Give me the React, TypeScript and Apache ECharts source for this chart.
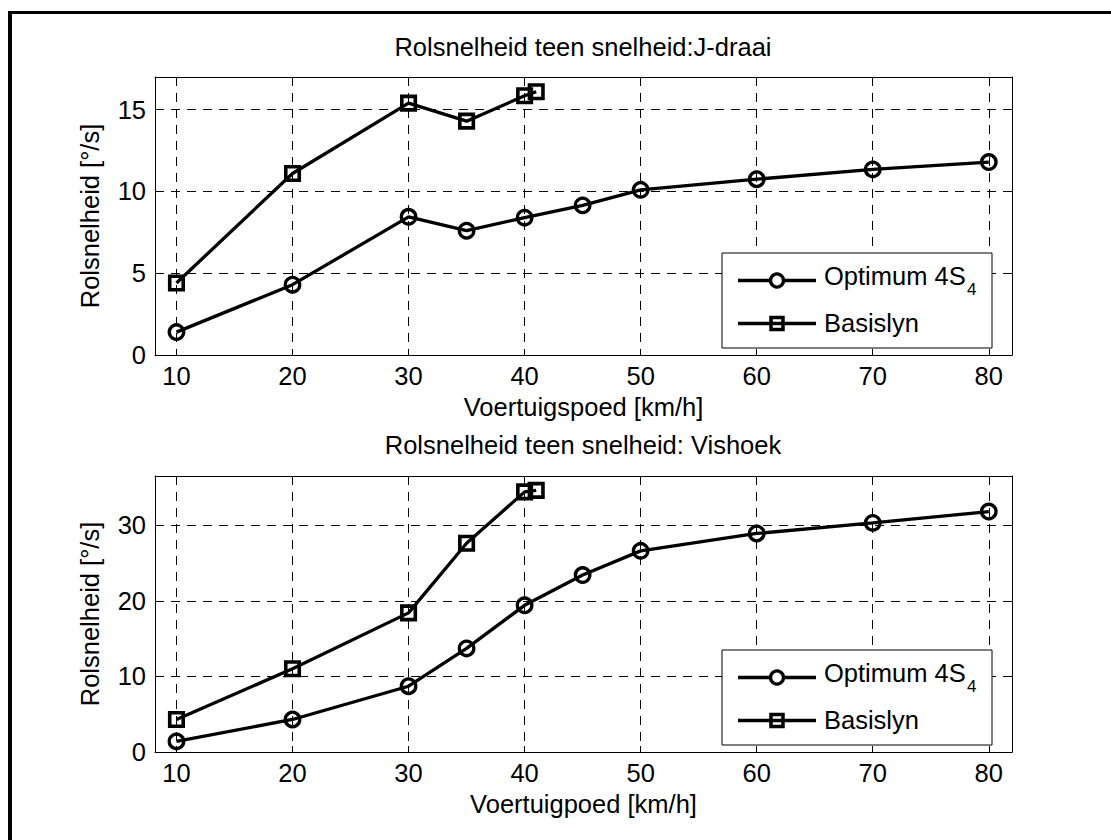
import React, { useEffect, useRef } from "react";
import * as echarts from "echarts";

// Vehicle speed [km/h] at which each configuration was run
const speedOptimum = [10, 20, 30, 35, 40, 45, 50, 60, 70, 80];
const speedBase = [10, 20, 30, 35, 40, 41];

// Roll rate [°/s], J-turn manoeuvre
const jTurnOptimum = [1.4, 4.3, 8.45, 7.6, 8.4, 9.15, 10.1, 10.75, 11.35, 11.8];
const jTurnBase = [4.4, 11.1, 15.4, 14.3, 15.85, 16.1];

// Roll rate [°/s], fishhook manoeuvre
const fishhookOptimum = [1.4, 4.3, 8.7, 13.7, 19.4, 23.4, 26.6, 28.9, 30.3, 31.8];
const fishhookBase = [4.3, 11.0, 18.4, 27.6, 34.4, 34.6];

const titles = ["Rolsnelheid teen snelheid:J-draai", "Rolsnelheid teen snelheid: Vishoek"];
const xNames = ["Voertuigspoed [km/h]", "Voertuigpoed [km/h]"];
const yName = "Rolsnelheid [°/s]";
const seriesNames = ["Optimum 4S", "Basislyn"];
const subscript = "4";
const yMax = [17, 36.5];
const yStep = [5, 10];

const FONT = "'Liberation Sans', Arial, Helvetica, sans-serif";
const FS = 25.5;

const GRIDS = [
  { left: 155, top: 77, width: 857, height: 278 },
  { left: 155, top: 476, width: 857, height: 276 },
];

const pairs = (xs: number[], ys: number[]) => xs.map((x, i) => [x, ys[i]]);

function legendGraphics(top: number) {
  const black = "#000";
  const r1 = top + 27.5;
  const r2 = top + 70.5;
  return [
    {
      type: "rect",
      z: 100,
      shape: { x: 722, y: top, width: 270, height: 95 },
      style: { fill: "#fff", stroke: black, lineWidth: 1 },
    },
    {
      type: "line",
      z: 101,
      shape: { x1: 738, y1: r1, x2: 816, y2: r1 },
      style: { stroke: black, lineWidth: 3.3 },
    },
    {
      type: "circle",
      z: 102,
      shape: { cx: 777, cy: r1, r: 6.5 },
      style: { fill: "#fff", stroke: black, lineWidth: 3.3 },
    },
    {
      type: "line",
      z: 101,
      shape: { x1: 738, y1: r2, x2: 816, y2: r2 },
      style: { stroke: black, lineWidth: 3.3 },
    },
    {
      type: "rect",
      z: 102,
      shape: { x: 771, y: r2 - 6, width: 12, height: 12 },
      style: { fill: "none", stroke: black, lineWidth: 3.5 },
    },
    {
      type: "text",
      z: 102,
      style: {
        text: seriesNames[0],
        x: 824,
        y: top + 22.5,
        font: `${FS}px ${FONT}`,
        fill: black,
        align: "left",
        verticalAlign: "middle",
      },
    },
    {
      type: "text",
      z: 102,
      style: {
        text: subscript,
        x: 967,
        y: top + 36.5,
        font: `17px ${FONT}`,
        fill: black,
        align: "left",
        verticalAlign: "middle",
      },
    },
    {
      type: "text",
      z: 102,
      style: {
        text: seriesNames[1],
        x: 824,
        y: top + 70.3,
        font: `${FS}px ${FONT}`,
        fill: black,
        align: "left",
        verticalAlign: "middle",
      },
    },
  ];
}

function buildOption() {
  const textBase = { color: "#000", fontFamily: FONT, fontSize: FS };

  const xAxis: any[] = [];
  const yAxis: any[] = [];
  GRIDS.forEach((_, gi) => {
    xAxis.push({
      gridIndex: gi,
      type: "value",
      min: 8.15,
      max: 82,
      splitNumber: 7,
      position: "bottom",
      axisLine: { show: true, onZero: false, lineStyle: { color: "#000", width: 1 } },
      axisTick: { show: true, inside: true, length: 6, lineStyle: { color: "#000" } },
      axisLabel: { ...textBase, margin: 8, showMinLabel: false, showMaxLabel: false },
      splitLine: { show: true, lineStyle: { color: "#000", width: 1, type: [9, 7] } },
      name: xNames[gi],
      nameLocation: "middle",
      nameGap: 39,
      nameTextStyle: textBase,
    });
    xAxis.push({
      gridIndex: gi,
      type: "value",
      min: 8.15,
      max: 82,
      splitNumber: 7,
      position: "top",
      axisLine: { show: true, onZero: false, lineStyle: { color: "#000", width: 1 } },
      axisTick: { show: true, inside: true, length: 6, lineStyle: { color: "#000" } },
      axisLabel: { show: false },
      splitLine: { show: false },
    });
    yAxis.push({
      gridIndex: gi,
      type: "value",
      min: 0,
      max: yMax[gi],
      interval: yStep[gi],
      position: "left",
      axisLine: { show: true, onZero: false, lineStyle: { color: "#000", width: 1 } },
      axisTick: { show: true, inside: true, length: 6, lineStyle: { color: "#000" } },
      axisLabel: { ...textBase, margin: 9, showMaxLabel: false },
      splitLine: { show: true, lineStyle: { color: "#000", width: 1, type: [9, 7] } },
      name: yName,
      nameLocation: "middle",
      nameGap: 52,
      nameTextStyle: textBase,
    });
    yAxis.push({
      gridIndex: gi,
      type: "value",
      min: 0,
      max: yMax[gi],
      interval: yStep[gi],
      position: "right",
      axisLine: { show: true, onZero: false, lineStyle: { color: "#000", width: 1 } },
      axisTick: { show: true, inside: true, length: 6, lineStyle: { color: "#000" } },
      axisLabel: { show: false },
      splitLine: { show: false },
    });
  });

  const lineSeries = (
    name: string,
    gi: number,
    data: number[][],
    symbol: string,
    size: number,
    border: number
  ) => ({
    name,
    type: "line",
    xAxisIndex: gi * 2,
    yAxisIndex: gi * 2,
    data,
    symbol,
    symbolSize: size,
    showAllSymbol: true,
    lineStyle: { color: "#000", width: 3.3 },
    itemStyle: { color: "rgba(0,0,0,0)", borderColor: "#000", borderWidth: border },
    emphasis: { disabled: true },
    z: 3,
  });

  return {
    animation: false,
    backgroundColor: "#fff",
    grid: GRIDS.map((g) => ({ ...g, show: false, containLabel: false })),
    xAxis,
    yAxis,
    series: [
      lineSeries(seriesNames[0], 0, pairs(speedOptimum, jTurnOptimum), "circle", 14.5, 3.3),
      lineSeries(seriesNames[1], 0, pairs(speedBase, jTurnBase), "rect", 13.5, 3.6),
      lineSeries(seriesNames[0], 1, pairs(speedOptimum, fishhookOptimum), "circle", 14.5, 3.3),
      lineSeries(seriesNames[1], 1, pairs(speedBase, fishhookBase), "rect", 13.5, 3.6),
    ],
    graphic: [
      // figure frame (left and top edges)
      {
        type: "line",
        z: 100,
        shape: { x1: 10, y1: 11, x2: 10, y2: 840 },
        style: { stroke: "#000", lineWidth: 4 },
      },
      {
        type: "line",
        z: 100,
        shape: { x1: 8, y1: 12.5, x2: 1111, y2: 12.5 },
        style: { stroke: "#000", lineWidth: 3 },
      },
      {
        type: "text",
        z: 100,
        style: {
          text: titles[0],
          x: 583,
          y: 46.5,
          font: `${FS}px ${FONT}`,
          fill: "#000",
          align: "center",
          verticalAlign: "middle",
        },
      },
      {
        type: "text",
        z: 100,
        style: {
          text: titles[1],
          x: 583,
          y: 445,
          font: `${FS}px ${FONT}`,
          fill: "#000",
          align: "center",
          verticalAlign: "middle",
        },
      },
      ...legendGraphics(253),
      ...legendGraphics(650),
    ],
  };
}

export default function App() {
  const ref = useRef<HTMLDivElement>(null);

  useEffect(() => {
    if (!ref.current) return;
    const chart = echarts.init(ref.current, null, { renderer: "svg" });
    chart.setOption(buildOption() as any);
    return () => chart.dispose();
  }, []);

  return (
    <div
      ref={ref}
      style={{
        position: "absolute",
        left: 0,
        top: 0,
        width: 1111,
        height: 840,
        background: "#fff",
      }}
    />
  );
}
